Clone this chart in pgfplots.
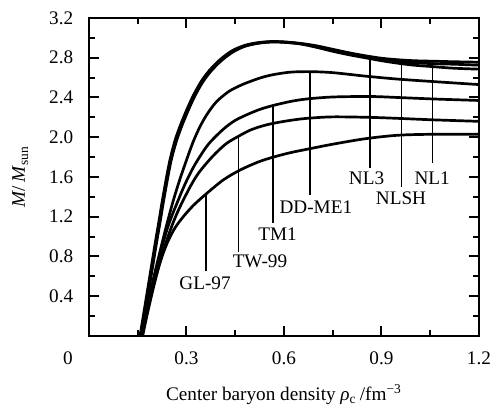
\documentclass[border=0pt]{standalone}
\usepackage{fontspec}
\setmainfont{Liberation Serif}
\usepackage{pgfplots}
\pgfplotsset{compat=1.18}
\begin{document}%
\fontsize{9.6}{11.5}\selectfont%
\begin{tikzpicture}
\begin{axis}[name=ax, scale only axis, width=195pt, height=159pt,
  xmin=0, xmax=1.2, ymin=0, ymax=3.2,
  xtick={0,0.3,0.6,0.9,1.2}, xticklabels={,0.3,0.6,0.9,1.2},
  minor xtick={0.15,0.45,0.75,1.05},
  ytick={0,0.4,0.8,1.2,1.6,2.0,2.4,2.8,3.2},
  yticklabels={,0.4,0.8,1.2,1.6,2.0,2.4,2.8,3.2},
  minor ytick={0.2,0.6,1.0,1.4,1.8,2.2,2.6,3.0},
  tick align=inside, major tick length=5pt, minor tick length=3pt,
  axis line style={line width=1pt},
  every tick/.style={line width=1pt, black},
  xticklabel style={anchor=base, yshift=-14.5pt},
  yticklabel style={anchor=east, xshift=-4.5pt},
  clip=true,
  curve/.style={black, line width=1.35pt, smooth, tension=0.5},
  lead/.style={black, line width=0.8pt},
]
% NL1
\addplot[curve] coordinates {(0.157,0)(0.175,0.36)(0.19,0.66)(0.205,0.96)(0.215,1.15)(0.224,1.33)(0.237,1.57)(0.249,1.77)(0.264,1.96)(0.28,2.11)(0.30,2.27)(0.321,2.42)(0.345,2.56)(0.37,2.67)(0.403,2.78)(0.44,2.87)(0.48,2.925)(0.52,2.952)(0.56,2.963)(0.60,2.96)(0.65,2.945)(0.70,2.92)(0.75,2.885)(0.80,2.85)(0.85,2.82)(0.90,2.795)(0.95,2.78)(1.0,2.77)(1.06,2.765)(1.12,2.76)(1.2,2.755)};
% NLSH
\addplot[curve] coordinates {(0.161,0)(0.179,0.36)(0.194,0.66)(0.209,0.96)(0.219,1.15)(0.228,1.33)(0.241,1.57)(0.253,1.77)(0.268,1.95)(0.284,2.10)(0.304,2.26)(0.325,2.41)(0.349,2.55)(0.374,2.66)(0.407,2.77)(0.444,2.86)(0.48,2.915)(0.52,2.945)(0.56,2.958)(0.60,2.955)(0.65,2.94)(0.70,2.91)(0.75,2.875)(0.80,2.84)(0.85,2.805)(0.90,2.78)(0.95,2.76)(1.0,2.75)(1.06,2.74)(1.12,2.735)(1.2,2.725)};
% NL3
\addplot[curve] coordinates {(0.159,0)(0.177,0.36)(0.192,0.66)(0.207,0.96)(0.217,1.15)(0.226,1.33)(0.239,1.57)(0.251,1.77)(0.266,1.955)(0.282,2.105)(0.302,2.265)(0.323,2.415)(0.347,2.555)(0.372,2.665)(0.405,2.775)(0.442,2.865)(0.48,2.92)(0.52,2.948)(0.56,2.96)(0.60,2.957)(0.65,2.94)(0.70,2.905)(0.75,2.865)(0.80,2.83)(0.85,2.80)(0.90,2.77)(0.95,2.745)(1.0,2.725)(1.06,2.71)(1.12,2.695)(1.2,2.685)};
% DD-ME1
\addplot[curve] coordinates {(0.16,0)(0.18,0.31)(0.20,0.60)(0.22,0.87)(0.24,1.13)(0.26,1.37)(0.28,1.58)(0.30,1.77)(0.32,1.95)(0.342,2.11)(0.365,2.24)(0.393,2.36)(0.43,2.46)(0.465,2.52)(0.495,2.56)(0.53,2.60)(0.567,2.63)(0.62,2.655)(0.68,2.66)(0.75,2.65)(0.85,2.615)(0.95,2.585)(1.06,2.56)(1.2,2.53)};
% TM1
\addplot[curve] coordinates {(0.163,0)(0.18,0.27)(0.20,0.57)(0.22,0.84)(0.24,1.07)(0.255,1.21)(0.27,1.33)(0.285,1.45)(0.30,1.56)(0.32,1.69)(0.342,1.81)(0.37,1.94)(0.413,2.08)(0.45,2.17)(0.495,2.24)(0.53,2.285)(0.567,2.32)(0.62,2.36)(0.67,2.385)(0.75,2.405)(0.865,2.41)(0.95,2.40)(1.06,2.385)(1.2,2.37)};
% TW-99
\addplot[curve] coordinates {(0.165,0)(0.18,0.23)(0.20,0.51)(0.22,0.76)(0.24,0.97)(0.26,1.15)(0.28,1.30)(0.311,1.50)(0.335,1.63)(0.362,1.74)(0.39,1.84)(0.424,1.94)(0.46,2.01)(0.495,2.07)(0.53,2.11)(0.567,2.14)(0.62,2.17)(0.67,2.19)(0.75,2.205)(0.865,2.20)(0.95,2.19)(1.06,2.175)(1.2,2.16)};
% GL-97
\addplot[curve] coordinates {(0.162,0)(0.172,0.14)(0.18,0.26)(0.19,0.40)(0.20,0.53)(0.213,0.68)(0.228,0.83)(0.244,0.96)(0.265,1.09)(0.29,1.20)(0.32,1.31)(0.357,1.42)(0.413,1.57)(0.465,1.67)(0.52,1.75)(0.567,1.80)(0.62,1.845)(0.68,1.885)(0.75,1.93)(0.85,1.985)(0.95,2.02)(1.06,2.03)(1.2,2.03)};
% leader lines
\addplot[lead] coordinates {(0.36,0.65)(0.36,1.42)};
\addplot[lead] coordinates {(0.46,0.85)(0.46,2.01)};
\addplot[lead] coordinates {(0.566,1.14)(0.566,2.32)};
\addplot[lead] coordinates {(0.68,1.42)(0.68,2.66)};
\addplot[lead] coordinates {(0.865,1.69)(0.865,2.80)};
\addplot[lead] coordinates {(0.962,1.50)(0.962,2.76)};
\addplot[lead] coordinates {(1.057,1.74)(1.057,2.76)};
% labels
\node at (axis cs:0.357,0.53) {GL-97};
\node at (axis cs:0.526,0.75) {TW-99};
\node at (axis cs:0.58,1.02) {TM1};
\node at (axis cs:0.698,1.30) {DD-ME1};
\node at (axis cs:0.854,1.59) {NL3};
\node at (axis cs:0.96,1.39) {NLSH};
\node at (axis cs:1.056,1.59) {NL1};
\end{axis}
\node[anchor=base] at ([xshift=-10.5pt,yshift=-14.5pt]ax.south west) {0};
\node[anchor=base] at ([yshift=-32.5pt]ax.south) {Center baryon density \textit{ρ}\textsubscript{c}\,/fm\textsuperscript{−3}};
\node[anchor=base, rotate=90] at ([xshift=-32pt]ax.west) {\textit{M}/\,\textit{M}\textsubscript{sun}};
\pgfresetboundingbox
\path[use as bounding box] ([xshift=-44.5pt,yshift=-34.5pt]ax.south west) rectangle ([xshift=8pt,yshift=9pt]ax.north east);
\end{tikzpicture}%
\end{document}
